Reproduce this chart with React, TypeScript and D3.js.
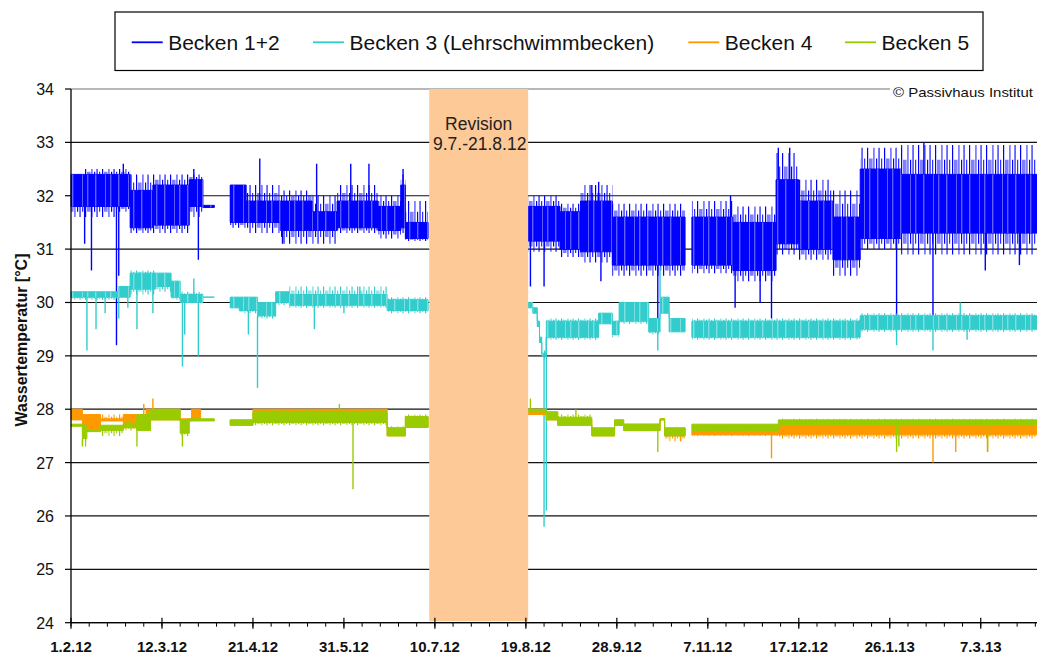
import React from "react";
import * as d3 from "d3";

const WIDTH = 1037;
const HEIGHT = 654;

// Axis definitions
const xStart = "2012-02-01";
const xEnd = "2013-04-01";
const yMin = 24;
const yMax = 34;
const yTickValues = [24, 25, 26, 27, 28, 29, 30, 31, 32, 33, 34];
const xTickDates = [
  "2012-02-01", "2012-03-12", "2012-04-21", "2012-05-31", "2012-07-10", "2012-08-19",
  "2012-09-28", "2012-11-07", "2012-12-17", "2013-01-26", "2013-03-07",
];
const xTickLabels = [
  "1.2.12", "12.3.12", "21.4.12", "31.5.12", "10.7.12", "19.8.12",
  "28.9.12", "7.11.12", "17.12.12", "26.1.13", "7.3.13",
];

const seriesNames = ["Becken 1+2", "Becken 3 (Lehrschwimmbecken)", "Becken 4", "Becken 5"];
const seriesColors = ["#0000FF", "#33CCCC", "#FF9900", "#99CC00"];

const revisionStart = "2012-07-07T12:00:00Z";
const revisionEnd = "2012-08-20";
const revisionLabel = ["Revision", "9.7.-21.8.12"];
const copyright = "© Passivhaus Institut";
const yTitle = "Wassertemperatur [°C]";

// Rows: [date, outerLow, coreLow, coreHigh, outerHigh]; a row of nulls marks the end of a run
type Row = [string, number | null, number | null, number | null, number | null];

const becken12: Row[] = [
  ["2012-02-01", 31.6, 31.8, 32.4, 32.4],
  ["2012-02-07", 31.6, 31.8, 32.4, 32.5],
  ["2012-02-21", 31.7, 31.8, 32.4, 32.5],
  ["2012-02-27", 31.3, 31.4, 32.1, 32.4],
  ["2012-03-08", 31.3, 31.45, 32.2, 32.4],
  ["2012-03-24", 31.6, 31.8, 32.3, 32.4],
  ["2012-03-30", 31.78, 31.78, 31.82, 31.82],
  ["2012-04-04", null, null, null, null],
  ["2012-04-11", 31.4, 31.5, 32.2, 32.2],
  ["2012-04-18", 31.3, 31.5, 31.9, 32.2],
  ["2012-05-03", 31.1, 31.35, 31.9, 32.1],
  ["2012-05-17", 31.1, 31.35, 31.7, 32.0],
  ["2012-05-28", 31.3, 31.4, 31.9, 32.2],
  ["2012-06-15", 31.2, 31.35, 31.8, 32.0],
  ["2012-06-25", 31.3, 31.4, 32.2, 32.4],
  ["2012-06-27", 31.15, 31.2, 31.5, 31.9],
  ["2012-07-07", null, null, null, null],
  ["2012-08-20", 30.95, 31.15, 31.8, 32.0],
  ["2012-09-03", 30.85, 31.0, 31.7, 31.85],
  ["2012-09-12", 30.75, 30.95, 31.9, 32.2],
  ["2012-09-26", 30.5, 30.7, 31.6, 31.85],
  ["2012-10-28", null, null, null, null],
  ["2012-10-31", 30.55, 30.7, 31.6, 31.9],
  ["2012-11-18", 30.4, 30.6, 31.5, 31.8],
  ["2012-12-07", 30.9, 31.1, 32.3, 32.8],
  ["2012-12-17", 30.8, 31.0, 31.9, 32.3],
  ["2013-01-01", 30.5, 30.8, 31.6, 32.1],
  ["2013-01-13", 31.0, 31.2, 32.5, 32.9],
  ["2013-01-31", 30.9, 31.3, 32.4, 32.95],
  ["2013-04-01", null, null, null, null],
];
const becken12Spikes: [string, number][] = [
  ["2012-02-07", 31.1], ["2012-02-10", 30.6], ["2012-02-21", 29.2], ["2012-02-22", 30.5],
  ["2012-02-24", 32.6], ["2012-03-26", 32.5], ["2012-03-28", 30.8],
  ["2012-04-24", 32.7], ["2012-05-04", 31.1], ["2012-05-19", 32.6], ["2012-06-03", 32.6],
  ["2012-06-11", 32.6], ["2012-06-26", 32.5],
  ["2012-08-21", 30.3], ["2012-08-27", 30.3], ["2012-09-17", 32.2], ["2012-09-20", 32.26],
  ["2012-09-21", 30.4], ["2012-10-16", 29.45], ["2012-11-17", 32.0], ["2012-11-19", 29.9],
  ["2012-11-30", 30.0], ["2012-12-05", 29.7], ["2012-12-08", 32.9], ["2012-12-13", 32.9],
  ["2013-01-29", 29.7], ["2013-02-10", 33.0], ["2013-02-14", 29.7], ["2013-03-09", 30.6],
  ["2013-03-24", 30.7],
];

const becken3: Row[] = [
  ["2012-02-01", 30.05, 30.1, 30.2, 30.2],
  ["2012-02-22", 30.1, 30.1, 30.3, 30.3],
  ["2012-02-27", 30.15, 30.25, 30.55, 30.6],
  ["2012-03-09", 30.2, 30.3, 30.55, 30.55],
  ["2012-03-16", 30.05, 30.1, 30.4, 30.4],
  ["2012-03-20", 30.0, 30.0, 30.15, 30.2],
  ["2012-03-30", 30.1, 30.1, 30.1, 30.1],
  ["2012-04-04", null, null, null, null],
  ["2012-04-11", 29.9, 29.9, 30.1, 30.1],
  ["2012-04-15", 29.8, 29.85, 30.1, 30.1],
  ["2012-04-23", 29.7, 29.75, 30.0, 30.0],
  ["2012-05-01", 29.95, 30.0, 30.2, 30.2],
  ["2012-05-07", 29.9, 29.95, 30.15, 30.3],
  ["2012-06-19", 29.8, 29.85, 30.05, 30.1],
  ["2012-07-07", null, null, null, null],
  ["2012-08-20", 29.9, 29.9, 30.0, 30.0],
  ["2012-08-22", 29.8, 29.8, 29.9, 29.9],
  ["2012-08-24", 29.55, 29.55, 29.65, 29.65],
  ["2012-08-25", 29.25, 29.25, 29.35, 29.35],
  ["2012-08-26", 28.95, 29.0, 29.05, 29.1],
  ["2012-08-28", 29.3, 29.35, 29.65, 29.7],
  ["2012-09-20", 29.6, 29.6, 29.8, 29.8],
  ["2012-09-26", 29.35, 29.4, 29.65, 29.65],
  ["2012-09-29", 29.6, 29.65, 30.0, 30.0],
  ["2012-10-12", 29.4, 29.45, 29.7, 29.7],
  ["2012-10-17", 29.8, 29.8, 30.1, 30.1],
  ["2012-10-21", 29.45, 29.45, 29.7, 29.7],
  ["2012-10-28", null, null, null, null],
  ["2012-10-31", 29.3, 29.35, 29.65, 29.7],
  ["2013-01-13", 29.45, 29.5, 29.75, 29.8],
  ["2013-04-01", null, null, null, null],
];
const becken3Spikes: [string, number][] = [
  ["2012-02-08", 29.1], ["2012-02-12", 29.5], ["2012-02-16", 29.8], ["2012-02-22", 29.7],
  ["2012-02-26", 29.9], ["2012-03-01", 29.5], ["2012-03-08", 29.8], ["2012-03-21", 28.8],
  ["2012-03-22", 29.4], ["2012-03-26", 30.45], ["2012-03-28", 29.0],
  ["2012-04-19", 29.4], ["2012-04-23", 28.4], ["2012-05-18", 29.5], ["2012-05-31", 29.8],
  ["2012-06-07", 30.3],
  ["2012-08-27", 25.8], ["2012-08-28", 26.1], ["2012-10-16", 29.1], ["2012-10-17", 30.67],
  ["2013-01-29", 29.2], ["2013-02-14", 29.1], ["2013-02-26", 30.0], ["2013-03-01", 29.3],
];

const becken4: Row[] = [
  ["2012-02-01", 27.8, 27.8, 28.0, 28.0],
  ["2012-02-06", 27.4, 27.6, 27.9, 27.9],
  ["2012-02-08", 27.6, 27.6, 27.9, 27.9],
  ["2012-02-14", 27.78, 27.78, 27.82, 27.9],
  ["2012-02-24", 27.65, 27.65, 27.9, 27.9],
  ["2012-03-05", 27.8, 27.8, 28.0, 28.0],
  ["2012-03-20", 27.78, 27.78, 27.82, 27.82],
  ["2012-03-25", 27.8, 27.8, 28.0, 28.0],
  ["2012-03-29", null, null, null, null],
  ["2012-04-11", 27.7, 27.7, 27.8, 27.8],
  ["2012-04-21", 27.75, 27.75, 28.0, 28.0],
  ["2012-06-19", 27.5, 27.5, 27.65, 27.65],
  ["2012-06-27", 27.66, 27.66, 27.86, 27.86],
  ["2012-07-07", null, null, null, null],
  ["2012-08-20", 27.9, 27.9, 28.0, 28.0],
  ["2012-08-28", 27.8, 27.8, 27.95, 27.95],
  ["2012-09-02", 27.7, 27.7, 27.8, 27.8],
  ["2012-09-17", 27.5, 27.5, 27.65, 27.65],
  ["2012-09-27", 27.7, 27.7, 27.8, 27.8],
  ["2012-10-01", 27.6, 27.6, 27.72, 27.72],
  ["2012-10-17", 27.8, 27.8, 27.82, 27.82],
  ["2012-10-19", 27.4, 27.5, 27.65, 27.65],
  ["2012-10-28", null, null, null, null],
  ["2012-10-31", 27.5, 27.52, 27.6, 27.62],
  ["2012-12-08", 27.45, 27.52, 27.7, 27.72],
  ["2013-04-01", null, null, null, null],
];
const becken4Spikes: [string, number][] = [
  ["2012-03-04", 28.1], ["2012-03-08", 28.2], ["2012-10-26", 27.4],
  ["2012-12-05", 27.08], ["2013-02-14", 27.0], ["2013-02-24", 27.2], ["2013-03-10", 27.2],
];

const becken5: Row[] = [
  ["2012-02-01", 27.68, 27.68, 27.72, 27.72],
  ["2012-02-06", 27.3, 27.45, 27.7, 27.7],
  ["2012-02-08", 27.58, 27.58, 27.62, 27.62],
  ["2012-02-14", 27.5, 27.6, 27.7, 27.7],
  ["2012-02-24", 27.6, 27.68, 27.72, 27.8],
  ["2012-03-01", 27.6, 27.6, 27.9, 27.9],
  ["2012-03-07", 27.8, 27.8, 28.0, 28.0],
  ["2012-03-20", 27.5, 27.55, 27.8, 27.8],
  ["2012-03-24", 27.78, 27.78, 27.82, 27.82],
  ["2012-04-04", null, null, null, null],
  ["2012-04-11", 27.7, 27.7, 27.8, 27.8],
  ["2012-04-21", 27.7, 27.75, 27.95, 28.0],
  ["2012-06-19", 27.5, 27.5, 27.65, 27.68],
  ["2012-06-27", 27.66, 27.66, 27.86, 27.9],
  ["2012-07-07", null, null, null, null],
  ["2012-08-20", 27.95, 27.95, 28.0, 28.0],
  ["2012-08-28", 27.8, 27.8, 27.95, 27.95],
  ["2012-09-02", 27.7, 27.7, 27.85, 27.9],
  ["2012-09-17", 27.5, 27.5, 27.65, 27.65],
  ["2012-09-27", 27.7, 27.7, 27.8, 27.8],
  ["2012-10-01", 27.6, 27.6, 27.72, 27.72],
  ["2012-10-17", 27.8, 27.8, 27.82, 27.82],
  ["2012-10-19", 27.5, 27.5, 27.65, 27.65],
  ["2012-10-28", null, null, null, null],
  ["2012-10-31", 27.6, 27.6, 27.72, 27.72],
  ["2012-12-08", 27.68, 27.7, 27.8, 27.82],
  ["2013-04-01", null, null, null, null],
];
const becken5Spikes: [string, number][] = [
  ["2012-02-06", 27.3], ["2012-03-01", 27.3], ["2012-03-21", 27.3],
  ["2012-05-29", 28.1], ["2012-06-04", 26.5],
  ["2012-08-21", 28.2], ["2012-09-10", 28.0], ["2012-10-16", 27.2],
  ["2013-01-29", 27.2], ["2013-01-30", 27.3], ["2013-03-10", 27.2],
];

const seriesRows = [becken12, becken3, becken4, becken5];
const seriesSpikes = [becken12Spikes, becken3Spikes, becken4Spikes, becken5Spikes];

const FONT = "Arial, 'Liberation Sans', sans-serif";

type Knot = { d: Date; oLo: number; lo: number; hi: number; oHi: number };

function splitRuns(rows: Row[]): Knot[][] {
  const runs: Knot[][] = [];
  let cur: Knot[] = [];
  rows.forEach((r) => {
    const d = new Date(r[0]);
    if (r[1] === null) {
      if (cur.length) {
        const last = cur[cur.length - 1];
        cur.push({ ...last, d });
        runs.push(cur);
        cur = [];
      }
    } else {
      cur.push({ d, oLo: r[1] as number, lo: r[2] as number, hi: r[3] as number, oHi: r[4] as number });
    }
  });
  return runs;
}

export default function App() {
  const x = d3.scaleUtc().domain([new Date(xStart), new Date(xEnd)]).range([71, 1037.6]);
  const y = d3.scaleLinear().domain([yMin, yMax]).range([622.7, 89]);

  const outerArea = d3.area<Knot>().x((k) => x(k.d)).y0((k) => y(k.oLo)).y1((k) => y(k.oHi)).curve(d3.curveStepAfter);
  const innerFringe = d3
    .area<Knot>()
    .x((k) => x(k.d))
    .y0((k) => y((k.oLo + k.lo) / 2))
    .y1((k) => y((k.oHi + k.hi) / 2))
    .curve(d3.curveStepAfter);
  const coreArea = d3.area<Knot>().x((k) => x(k.d)).y0((k) => y(k.lo)).y1((k) => y(k.hi)).curve(d3.curveStepAfter);

  const minorTicks = d3.utcDay.range(new Date(xStart), new Date(xEnd), 1).filter((_, i) => i % 8 === 0);

  const revX0 = x(new Date(revisionStart));
  const revX1 = x(new Date(revisionEnd));

  return (
    <svg width={WIDTH} height={HEIGHT} style={{ position: "absolute", left: 0, top: 0, background: "#fff" }} fontFamily={FONT}>
      <defs>
        {seriesColors.map((c, i) => (
          <pattern key={`s${i}`} id={`sparse${i}`} patternUnits="userSpaceOnUse" width={17} height={10}>
            <rect x={0} y={0} width={1.2} height={10} fill={c} />
            <rect x={6.5} y={0} width={0.9} height={10} fill={c} />
            <rect x={11.5} y={0} width={1.1} height={10} fill={c} />
          </pattern>
        ))}
        {seriesColors.map((c, i) => (
          <pattern key={`d${i}`} id={`dense${i}`} patternUnits="userSpaceOnUse" width={17} height={10}>
            <rect x={2.5} y={0} width={1} height={10} fill={c} />
            <rect x={4.5} y={0} width={0.8} height={10} fill={c} />
            <rect x={9} y={0} width={1.2} height={10} fill={c} />
            <rect x={14.2} y={0} width={1} height={10} fill={c} />
          </pattern>
        ))}
        <pattern id="gaps" patternUnits="userSpaceOnUse" width={23} height={10}>
          <rect x={3.5} y={0} width={0.7} height={10} fill="#fff" opacity={0.75} />
          <rect x={13} y={0} width={0.6} height={10} fill="#fff" opacity={0.6} />
          <rect x={18.5} y={0} width={0.7} height={10} fill="#fff" opacity={0.7} />
        </pattern>
      </defs>
      <rect x={0} y={0} width={WIDTH} height={HEIGHT} fill="#fff" />

      {/* gridlines */}
      {yTickValues.map((v) => (
        <line key={v} x1={71} x2={WIDTH} y1={y(v)} y2={y(v)} stroke={v === yMax ? "#a0a0a0" : "#111"} strokeWidth={v === yMax ? 1.5 : 1.2} />
      ))}

      {/* series */}
      {seriesRows.map((rows, si) => {
        const runs = splitRuns(rows);
        const color = seriesColors[si];
        const spikes = seriesSpikes[si];
        return (
          <g key={si}>
            {runs.map((run, ri) => (
              <g key={ri}>
                <path d={outerArea(run) || ""} fill={`url(#sparse${si})`} />
                <path d={innerFringe(run) || ""} fill={`url(#dense${si})`} />
                <path d={coreArea(run) || ""} fill={color} stroke={color} strokeWidth={1} />
                {si < 2 && <path d={coreArea(run) || ""} fill="url(#gaps)" />}
              </g>
            ))}
            {spikes.map(([ds, v], k) => {
              const d = new Date(ds);
              let edge = v;
              for (const run of runs) {
                if (d >= run[0].d && d <= run[run.length - 1].d) {
                  const idx = Math.max(0, d3.bisectRight(run.map((q) => +q.d), +d) - 1);
                  const kn = run[Math.min(idx, run.length - 1)];
                  edge = v < kn.lo ? kn.lo : kn.hi;
                }
              }
              return <line key={k} x1={x(d)} x2={x(d)} y1={y(edge)} y2={y(v)} stroke={color} strokeWidth={1.4} />;
            })}
          </g>
        );
      })}

      {/* revision block */}
      <rect x={revX0} y={y(yMax)} width={revX1 - revX0} height={y(yMin) - y(yMax) - 1.5} fill="#FDC997" />
      <text x={(revX0 + revX1) / 2} y={130} textAnchor="middle" fontSize={17.5} fill="#222">
        {revisionLabel[0]}
      </text>
      <text x={(revX0 + revX1) / 2 + 1} y={150} textAnchor="middle" fontSize={17.5} fill="#222">
        {revisionLabel[1]}
      </text>

      {/* axes */}
      <line x1={71} x2={71} y1={y(yMax)} y2={y(yMin)} stroke="#000" strokeWidth={1.3} />
      <line x1={71} x2={WIDTH} y1={y(yMin)} y2={y(yMin)} stroke="#000" strokeWidth={1.3} />
      {yTickValues.map((v) => (
        <g key={v}>
          <line x1={65} x2={71} y1={y(v)} y2={y(v)} stroke="#000" strokeWidth={1.2} />
          <text x={54} y={y(v) + 6} textAnchor="end" fontSize={16} fill="#111">
            {v}
          </text>
        </g>
      ))}
      {minorTicks.map((d, i) => (
        <line key={i} x1={x(d)} x2={x(d)} y1={y(yMin)} y2={y(yMin) + 4} stroke="#000" strokeWidth={1} />
      ))}
      {xTickDates.map((ds, i) => (
        <g key={ds}>
          <line x1={x(new Date(ds))} x2={x(new Date(ds))} y1={y(yMin) - 5} y2={y(yMin) + 6} stroke="#000" strokeWidth={1.2} />
          <text x={x(new Date(ds))} y={652} textAnchor="middle" fontSize={15} fontWeight="bold" fill="#111">
            {xTickLabels[i]}
          </text>
        </g>
      ))}
      <text transform={`translate(27,340) rotate(-90)`} textAnchor="middle" fontSize={16} fontWeight="bold" fill="#111">
        {yTitle}
      </text>

      {/* copyright */}
      <rect x={890} y={83} width={147} height={15} fill="#fff" />
      <text x={893} y={97} fontSize={13.5} fill="#111" textLength={140} lengthAdjust="spacingAndGlyphs">
        {copyright}
      </text>

      {/* legend */}
      <rect x={115} y={12} width={868} height={58.5} fill="#fff" stroke="#000" strokeWidth={1.2} />
      {[131.7, 313, 688.3, 845].map((lx, i) => (
        <g key={i}>
          <line x1={lx} x2={lx + 31} y1={42.3} y2={42.3} stroke={seriesColors[i]} strokeWidth={1.8} />
          <text x={lx + 36.5} y={49.7} fontSize={21} fill="#111">
            {seriesNames[i]}
          </text>
        </g>
      ))}
    </svg>
  );
}
